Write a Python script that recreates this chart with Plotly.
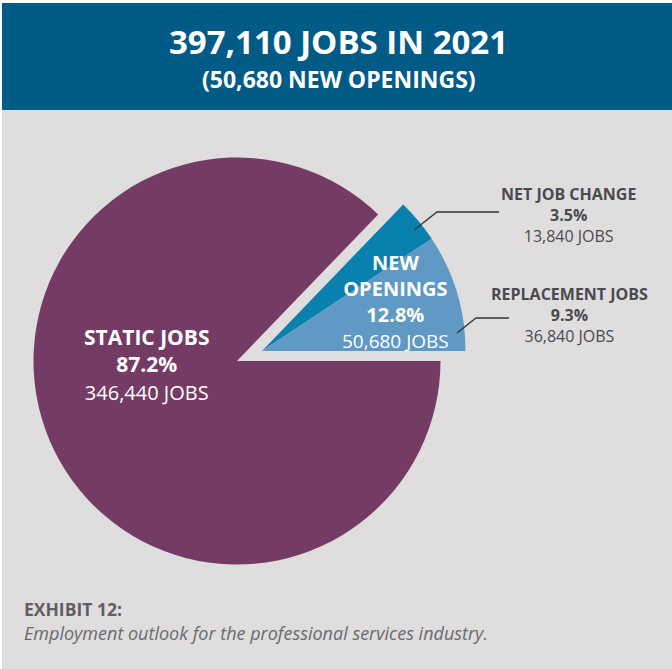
import plotly.graph_objects as go

W, H = 672, 669

categories = ["Net job change", "Replacement jobs", "Static jobs"]
shares = [3.5, 9.3, 87.2]
jobs = [13840, 36840, 346440]
colors = ["#0a80ae", "#5f99c4", "#743c64"]

total_jobs = 397110
new_openings = 50680
new_share = 12.8
year = 2021


def px(x):
    return x / W


def py(y):
    return 1 - y / H


def domain(cx, cy, r):
    return dict(x=[px(cx - r), px(cx + r)], y=[py(cy + r), py(cy - r)])


# first slice begins at the top edge of the "new openings" wedge, going clockwise
start = 90 - new_share / 100 * 360
CLEAR = "rgba(0,0,0,0)"

fig = go.Figure()
fig.add_trace(go.Pie(
    labels=categories, values=shares, sort=False, direction="clockwise",
    rotation=start, textinfo="none", hoverinfo="label+percent",
    marker=dict(colors=[CLEAR, CLEAR, colors[2]], line=dict(width=0)),
    domain=domain(237, 361, 203.5), showlegend=False,
))
fig.add_trace(go.Pie(
    labels=categories, values=shares, sort=False, direction="clockwise",
    rotation=start, textinfo="none", hoverinfo="label+percent",
    marker=dict(colors=[colors[0], colors[1], CLEAR], line=dict(width=0)),
    domain=domain(262, 351, 203.5), showlegend=False,
))

FONT = "Open Sans"
DARK = "#4a4a50"
ann = []


def text(x, y, s, size, color, xanchor="center"):
    ann.append(dict(x=px(x), y=py(y), xref="paper", yref="paper", text=s,
                    showarrow=False, xanchor=xanchor, yanchor="middle", align="center",
                    font=dict(family=FONT, size=size, color=color)))


def span(s, size):
    return f"<span style='font-size:{size}px'>{s}</span>"


text(338, 42, f"<b>{total_jobs:,} JOBS IN {year}</b>", 33, "white")
text(339, 79, f"<b>({new_openings:,} NEW OPENINGS)</b>", 23, "white")

text(147, 365, f"<b>STATIC JOBS</b><br><b>{shares[2]}%</b><br>"
     + span(f"{jobs[2]:,} JOBS", 20), 21, "white")

text(395, 301.5, f"<b>NEW</b><br><b>OPENINGS</b><br><b>{new_share}%</b><br>"
     + span(f"{new_openings:,} JOBS", 19), 20, "white")

text(568, 215, f"<b>NET JOB CHANGE</b><br><b>{shares[0]}%</b><br>{jobs[0]:,} JOBS", 16, DARK)
text(569, 314.5, f"<b>REPLACEMENT JOBS</b><br><b>{shares[1]}%</b><br>{jobs[1]:,} JOBS", 16, DARK)

text(22, 609, "<b>EXHIBIT 12:</b>", 17.5, "#5f5f64", xanchor="left")
text(22, 633, "<i>Employment outlook for the professional services industry.</i>", 18,
     "#6a6a70", xanchor="left")

shapes = [
    dict(type="rect", xref="paper", yref="paper", x0=px(2), x1=1, y0=0, y1=py(3),
         fillcolor="#dfdddd", line=dict(width=0), layer="below"),
    dict(type="rect", xref="paper", yref="paper", x0=px(2), x1=1, y0=py(110), y1=py(3),
         fillcolor="#025b87", line=dict(width=0), layer="below"),
    dict(type="path", xref="paper", yref="paper",
         path=f"M {px(414)} {py(230)} L {px(437)} {py(212)} L {px(499)} {py(212)}",
         line=dict(color="#333333", width=1.3)),
    dict(type="path", xref="paper", yref="paper",
         path=f"M {px(457)} {py(333)} L {px(476)} {py(318)} L {px(509)} {py(318)}",
         line=dict(color="#333333", width=1.3)),
]

fig.update_layout(
    width=W, height=H, margin=dict(l=0, r=0, t=0, b=0),
    paper_bgcolor="white", plot_bgcolor="white",
    annotations=ann, shapes=shapes, showlegend=False,
)

fig.write_html("out.html", config={"displayModeBar": False},
               post_script="document.body.style.margin='0px';")
